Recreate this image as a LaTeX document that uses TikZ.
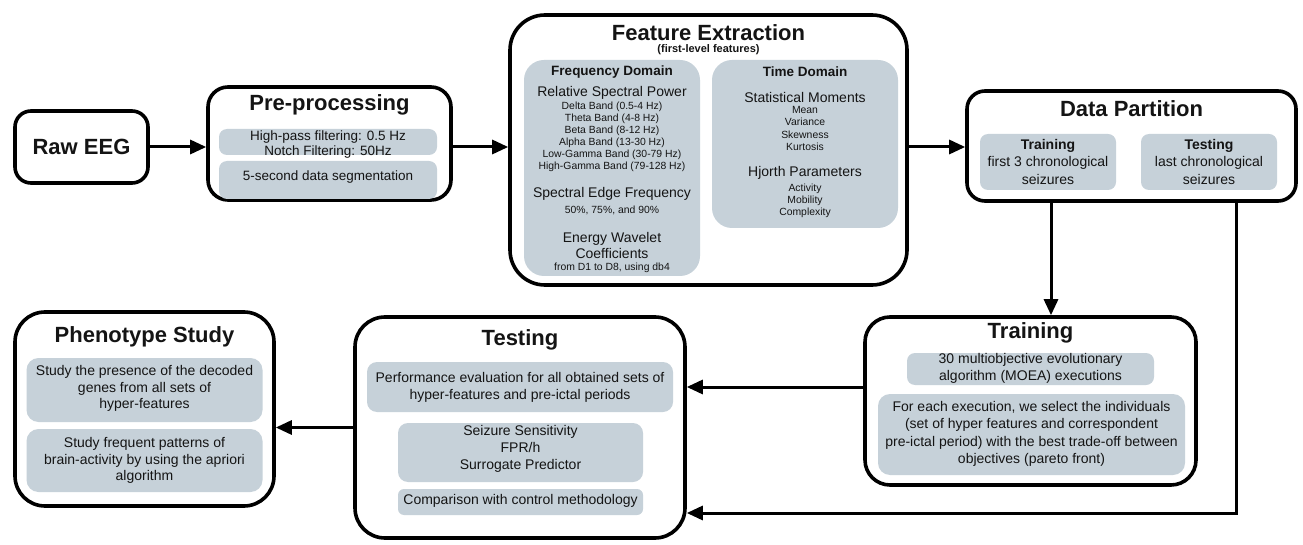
\documentclass[tikz,border=0pt]{standalone}
\usepackage{fontspec}
\setmainfont{Liberation Sans}
\usetikzlibrary{arrows.meta}
\definecolor{innerfill}{RGB}{198,209,217}
\definecolor{txtcol}{RGB}{20,20,20}
\begin{document}
\begin{tikzpicture}[x=1pt,y=-1pt,
 mainbox/.style={draw=black,line width=3.6pt,fill=white,inner sep=0pt,rectangle},
 innerbox/.style={fill=innerfill,inner sep=0pt,rectangle,rounded corners=8pt},
 ttl/.style={font=\fontsize{22}{26}\selectfont\bfseries,inner sep=0pt,text=txtcol},
 subh/.style={font=\fontsize{13.5}{16}\selectfont\bfseries,inner sep=0pt,text=txtcol},
 body/.style={font=\fontsize{14}{17}\selectfont,align=center,inner sep=0pt,text=txtcol},
 small/.style={font=\fontsize{10.4}{12}\selectfont,align=center,inner sep=0pt,text=txtcol},
 arr/.style={line width=3pt,-{Triangle[length=16pt,width=14pt]}},
]
\useasboundingbox (0,0) rectangle (1303,545);

% Raw EEG
\node[mainbox,rounded corners=16pt,minimum width=133pt,minimum height=72pt] (raw) at (81.5,147) {};
\node[ttl] (rawt) at (81.5,147) {Raw EEG};

% Pre-processing
\node[mainbox,rounded corners=20pt,minimum width=243pt,minimum height=113pt] (pre) at (329.5,143.5) {};
\node[ttl] (pret) at (329.5,105) {Pre-processing};
\node[innerbox,minimum width=218pt,minimum height=26pt] (pre1) at (328,142) {};
\node[body,font=\fontsize{13.5}{15}\selectfont] (pre1t) at (328,144.5) {High-pass filtering: 0.5 Hz\\Notch Filtering: 50Hz};
\node[innerbox,minimum width=218pt,minimum height=38pt] (pre2) at (328,180) {};
\node[body,font=\fontsize{13.5}{15}\selectfont] (pre2t) at (328,177) {5-second data segmentation};

% Feature Extraction
\node[mainbox,rounded corners=35pt,minimum width=397pt,minimum height=270pt] (fe) at (708.5,150) {};
\node[ttl] (fet) at (708.5,33) {Feature Extraction};
\node[inner sep=0pt,font=\fontsize{11}{13}\selectfont\bfseries,text=txtcol] (fes) at (708.5,50) {(first-level features)};
\node[innerbox,rounded corners=20pt,minimum width=176pt,minimum height=216pt] (fd) at (612,168) {};
\node[innerbox,rounded corners=20pt,minimum width=186pt,minimum height=168pt] (td) at (805,144) {};

\node[subh] (fdh) at (612,72) {Frequency Domain};
\node[body] (fdrsp) at (612,93) {Relative Spectral Power};
\node[small] (fdbands) at (612,137) {Delta Band (0.5-4 Hz)\\Theta Band (4-8 Hz)\\Beta Band (8-12 Hz)\\Alpha Band (13-30 Hz)\\Low-Gamma Band (30-79 Hz)\\High-Gamma Band (79-128 Hz)};
\node[body] (fdsef) at (612,194) {Spectral Edge Frequency};
\node[small] (fdsefp) at (612,210) {50\%, 75\%, and 90\%};
\node[body,font=\fontsize{14}{16}\selectfont] (fdewc) at (612,245) {Energy Wavelet\\Coefficients};
\node[small] (fdewcs) at (612,268) {from D1 to D8, using db4};

\node[subh] (tdh) at (805,72) {Time Domain};
\node[body] (tdsm) at (805,97) {Statistical Moments};
\node[small,font=\fontsize{10.4}{12.3}\selectfont] (tdsmi) at (805,128.5) {Mean\\Variance\\Skewness\\Kurtosis};
\node[body] (tdhp) at (805,173) {Hjorth Parameters};
\node[small] (tdhpi) at (805,201) {Activity\\Mobility\\Complexity};

% Data Partition
\node[mainbox,rounded corners=18pt,minimum width=329pt,minimum height=110pt] (dp) at (1131.5,146) {};
\node[ttl] (dpt) at (1131.5,109) {Data Partition};
\node[innerbox,minimum width=136pt,minimum height=56pt] (dptr) at (1048,162) {};
\node[innerbox,minimum width=136pt,minimum height=56pt] (dpte) at (1209,162) {};
\node[body,font=\fontsize{14}{17.5}\selectfont] (dptrt) at (1048,161.5) {\textbf{Training}\\first 3 chronological\\seizures};
\node[body,font=\fontsize{14}{17.5}\selectfont] (dptet) at (1209,161.5) {\textbf{Testing}\\last chronological\\seizures};

% Training
\node[mainbox,rounded corners=25pt,minimum width=331pt,minimum height=168pt] (tr) at (1030.5,401) {};
\node[ttl] (trt) at (1030.5,333) {Training};
\node[innerbox,minimum width=247pt,minimum height=32pt] (tr1) at (1030.5,369) {};
\node[body] (tr1t) at (1030.5,368.5) {30 multiobjective evolutionary\\algorithm (MOEA) executions};
\node[innerbox,rounded corners=12pt,minimum width=307pt,minimum height=81pt] (tr2) at (1031.5,434.5) {};
\node[body,font=\fontsize{14}{17.3}\selectfont] (tr2t) at (1031.5,434) {For each execution, we select the individuals\\(set of hyper features and correspondent\\pre-ictal period) with the best trade-off between\\objectives (pareto front)};

% Testing
\node[mainbox,rounded corners=30pt,minimum width=330pt,minimum height=221pt] (te) at (520,427.5) {};
\node[ttl] (tet) at (520,340) {Testing};
\node[innerbox,rounded corners=10pt,minimum width=306pt,minimum height=50pt] (te1) at (520,387) {};
\node[body] (te1t) at (520,387.5) {Performance evaluation for all obtained sets of\\hyper-features and pre-ictal periods};
\node[innerbox,rounded corners=10pt,minimum width=245pt,minimum height=59pt] (te2) at (520.5,452.5) {};
\node[body] (te2t) at (520.5,449) {Seizure Sensitivity\\FPR/h\\Surrogate Predictor};
\node[innerbox,rounded corners=6pt,minimum width=245pt,minimum height=26pt] (te3) at (520.5,502) {};
\node[body] (te3t) at (520.5,501) {Comparison with control methodology};

% Phenotype Study
\node[mainbox,rounded corners=30pt,minimum width=259pt,minimum height=194pt] (ph) at (144.5,409) {};
\node[ttl] (pht) at (144.5,337) {Phenotype Study};
\node[innerbox,rounded corners=12pt,minimum width=236pt,minimum height=64pt] (ph1) at (144.5,390) {};
\node[body,font=\fontsize{14}{16.5}\selectfont] (ph1t) at (144.5,388.5) {Study the presence of the decoded\\genes from all sets of\\hyper-features};
\node[innerbox,rounded corners=12pt,minimum width=236pt,minimum height=63pt] (ph2) at (144.5,460.5) {};
\node[body,font=\fontsize{14}{16.5}\selectfont] (ph2t) at (144.5,460.5) {Study frequent patterns of\\brain-activity by using the apriori\\algorithm};

% Connectors
\coordinate (dvx) at (1051,0);
\coordinate (tbend) at (1236,513);
\coordinate (tty) at (0,387);
\draw[arr] (raw.east) -- (raw.east -| pre.west);
\draw[arr] (pre.east |- raw.east) -- (fe.west |- raw.east);
\draw[arr] (fe.east |- raw.east) -- (dp.west |- raw.east);
\draw[arr] (dvx |- dp.south) -- (dvx |- tr.north);
\draw[arr] (tbend |- dp.south) -- (tbend) -- (tbend -| te.east);
\draw[arr] (tr.west |- tty) -- (te.east |- tty);
\draw[arr] (te.west) -- (te.west -| ph.east);
\end{tikzpicture}
\end{document}
